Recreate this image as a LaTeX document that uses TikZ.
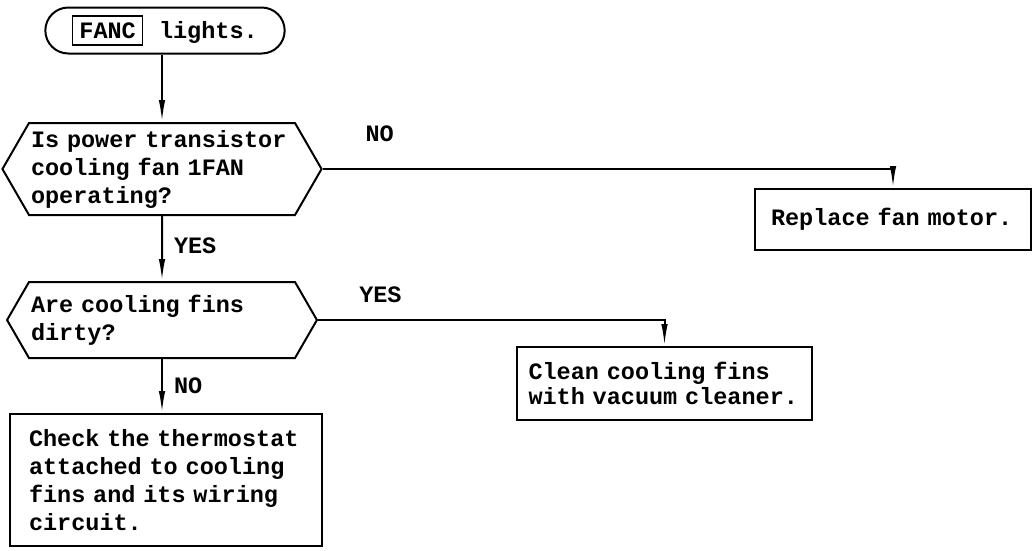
\documentclass[tikz,border=0pt]{standalone}
\usepackage{fontspec}
\setmainfont{Liberation Mono}
\usetikzlibrary{shapes.misc, shapes.symbols, arrows.meta, positioning}
\setlength{\fboxsep}{6pt}
\setlength{\fboxrule}{1.2pt}
\newcommand{\chartfont}{\bfseries\fontsize{23.5pt}{28pt}\selectfont}
\newcommand{\chartfonttight}{\bfseries\fontsize{23.5pt}{25pt}\selectfont}
\tikzset{
  base/.style={draw, line width=2pt, font=\chartfont},
  terminal/.style={base, rounded rectangle, minimum width=246pt, minimum height=46pt},
  decision/.style={base, signal, signal to=west and east, signal pointer angle=120,
                   text width=262pt, inner xsep=2pt, align=left},
  action/.style={base, rectangle, align=left},
  flow/.style={line width=2pt, -{Latex[length=22pt,width=6.5pt]}},
  lbl/.style={font=\chartfont, inner sep=2pt}
}

\begin{document}
\begin{tikzpicture}[x=1pt, y=1pt]
    \useasboundingbox (0,0) rectangle (1033,-550);

    % main column
    \node[terminal] (start) at (165,-30.5) {\fbox{FANC}\hspace{16pt}lights.};
    \node[decision, minimum height=92pt] (qfan) at (162,-169)
        {Is power transistor\\cooling fan 1FAN\\operating?};
    \node[decision, minimum height=76pt] (qfins) at (162,-320)
        {Are cooling fins\\dirty?};
    \node[action, text width=274pt, minimum width=312pt, minimum height=132pt] (thermo) at (166,-480)
        {Check the thermostat\\attached to cooling\\fins and its wiring\\circuit.};

    % branches
    \node[action, text width=244pt, minimum width=276pt, minimum height=61pt] (replace) at (893,-219.5)
        {Replace fan motor.};
    \node[action, text width=272pt, minimum width=295pt, minimum height=73pt,
          font=\chartfonttight] (clean) at (664.5,-383.5)
        {Clean cooling fins\\with vacuum cleaner.};

    \draw[flow] (start.south -| qfan.north) -- (qfan.north);
    \draw[flow] (qfan) -- node[lbl, right=9pt, pos=0.45] {YES} (qfins);
    \draw[flow] (qfins.south) -- node[lbl, right=9pt] {NO} (qfins.south |- thermo.north);
    \draw[flow] (qfan.east) -| node[lbl, pos=0.05, above=24pt] {NO} (replace.north);
    \draw[flow] (qfins.east) -| node[lbl, pos=0.09, above=14pt] {YES} (clean.north);
\end{tikzpicture}
\end{document}
